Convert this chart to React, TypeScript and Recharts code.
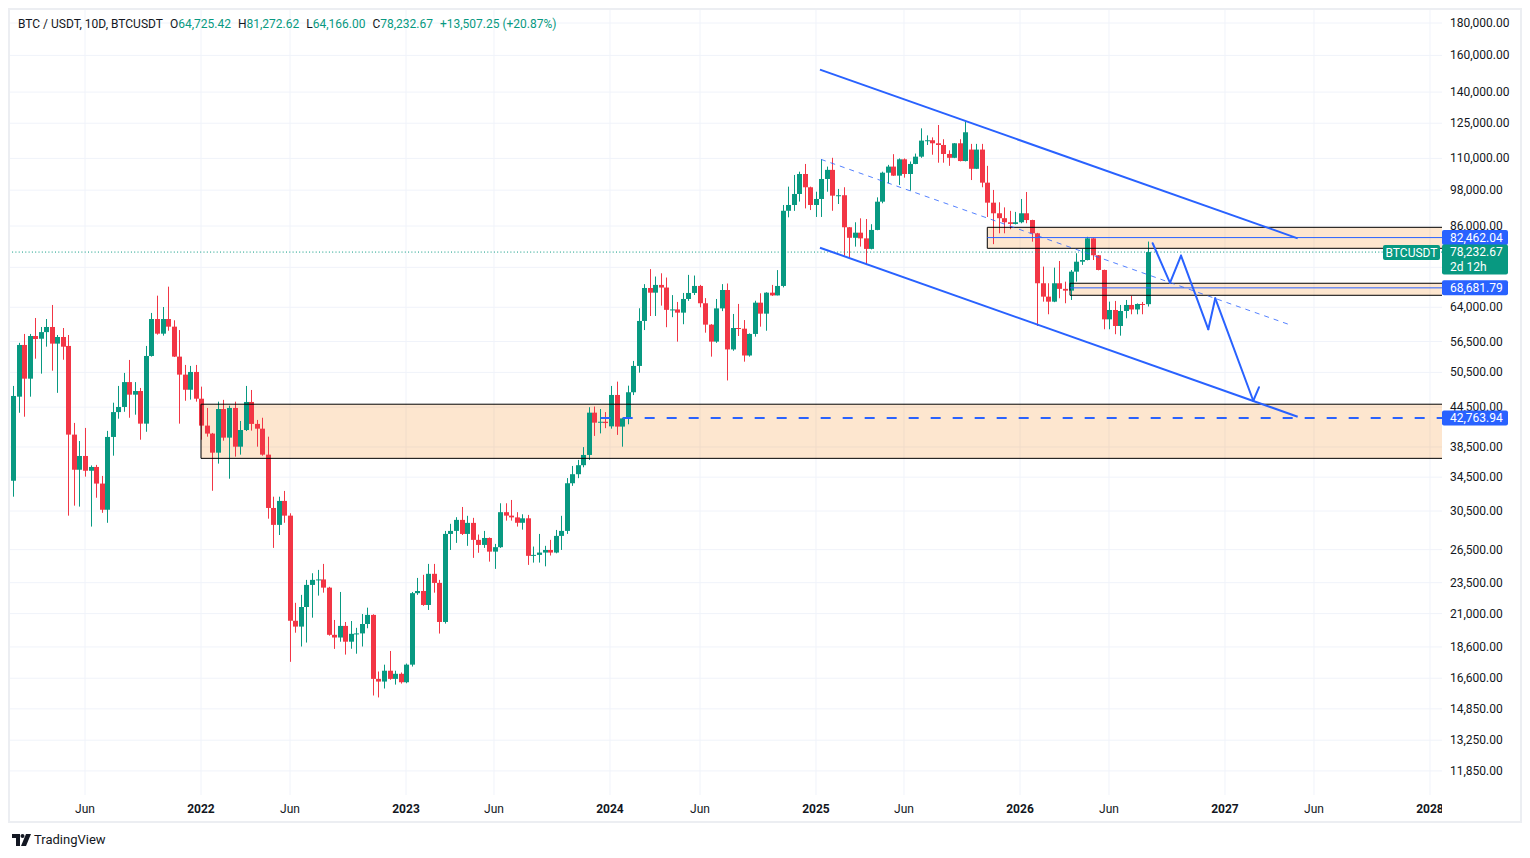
// App.tsx

import {
  ComposedChart,
  Bar,
  XAxis,
  YAxis,
  CartesianGrid,
  ReferenceLine,
  ReferenceArea,
} from "recharts";

const GREEN = "#089981";
const RED = "#f23645";
const BLUE = "#2962ff";
const TEXT = "#131722";

// 10D candles, one entry per bar (bar 0 = first candle on the left)
const OPEN = [
  34050, 46230, 55800, 49360, 57650, 57080, 58470, 59570, 56070, 57440,
  55600, 40270, 35440, 37260, 35310, 35800, 33700, 30640, 39930, 43710,
  44530, 48750, 46570, 47190, 41910, 53610, 61320, 58140, 61320, 59640,
  53480, 50090, 47410, 50580, 45890, 41610, 40420, 37710, 44200, 39830,
  44370, 38540, 40950, 45350, 41870, 41150, 37440, 30840, 29000, 31640,
  29990, 20460, 20030, 21510, 23310, 23740, 23780, 23080, 19440, 19250,
  20080, 18960, 19510, 19540, 20220, 20900, 16560, 16400, 17060, 16560,
  16870, 16360, 17440, 22620, 22800, 21670, 24270, 23480, 20370, 28060,
  28370, 29530, 28060, 29210, 27460, 26960, 27650, 26310, 26740, 30370,
  29990, 29800, 29220, 29700, 25910, 26000, 26220, 26470, 26220, 27860,
  28370, 33740, 34870, 36030, 37400, 43620, 42060, 42200, 41500, 46520,
  41460, 42720, 46980, 51700, 60890, 68650, 67490, 69420, 68760, 63400,
  63500, 62760, 65960, 67420, 69160, 64940, 60080, 56480, 63740, 68150,
  54900, 59350, 59200, 53700, 58080, 65080, 62530, 67490, 66820, 69160,
  90910, 92850, 96640, 103930, 99030, 92850, 94900, 102060, 105500, 96050,
  96200, 85620, 82400, 83950, 82230, 79140, 84790, 93970, 104420, 106760,
  103300, 109630, 103930, 107790, 110690, 117350, 117500, 116210, 115500, 111780,
  110230, 116210, 108940, 113580, 105910, 113580, 100700, 93630, 90090, 88490,
  87190, 86660, 87190, 90090, 87900, 83760, 69840, 66520, 65320, 69840,
  68430, 67990, 72850, 75540, 76000, 82230, 77330, 73300, 61250, 63370,
  59790, 63140, 64540, 63490, 64770, 64725.42,
];

const HIGH = [
  48070, 56230, 58080, 58080, 61550, 59570, 61320, 64540, 57860, 59350,
  57860, 42020, 39340, 41260, 36000, 36070, 34650, 40820, 45230, 48070,
  50400, 52840, 48750, 47720, 55600, 62690, 66760, 64060, 68980, 61040,
  58910, 51890, 51700, 51890, 47950, 44370, 40520, 45400, 45700, 44750,
  45400, 42320, 48070, 47370, 42480, 42820, 39970, 32130, 32130, 32810,
  30250, 21840, 22480, 23740, 24320, 24620, 25160, 23150, 20520, 22720,
  20370, 20440, 19940, 20970, 21460, 20950, 17010, 17440, 18330, 17060,
  16950, 17510, 22720, 23910, 24180, 25160, 25160, 23740, 28370, 29110,
  29820, 30950, 29970, 29750, 28000, 28370, 27700, 27060, 31370, 31370,
  31750, 30370, 30140, 30070, 26800, 28060, 26870, 27460, 28470, 29970,
  34380, 35930, 36730, 38480, 44490, 44600, 44200, 43710, 48070, 48830,
  42800, 48120, 52650, 63770, 69620, 73530, 71570, 72420, 71310, 66900,
  65250, 67420, 72000, 71830, 69420, 66170, 60200, 65960, 69620, 69780,
  62460, 64780, 61090, 58200, 65540, 67340, 67600, 69420, 73270, 92850,
  99250, 103570, 104800, 107790, 99250, 97440, 109630, 106760, 110230, 98430,
  99030, 85700, 87190, 88450, 88230, 86580, 95460, 104800, 107430, 111700,
  110000, 110000, 108760, 111950, 122700, 119600, 118740, 124210, 117940, 113270,
  116300, 117940, 125840, 115960, 115960, 115960, 107060, 98070, 93770, 92040,
  90880, 90540, 94900, 97340, 88000, 83900, 74200, 69840, 73930, 75730,
  70250, 73290, 77890, 79160, 82700, 82300, 77400, 73400, 65320, 65490,
  64540, 65720, 66690, 64900, 65250, 81272.62,
];

const LOW = [
  32130, 43600, 42980, 46230, 53080, 50270, 55450, 50810, 46880, 52880,
  29990, 31100, 30990, 34560, 28820, 32010, 30300, 29220, 37300, 42670,
  43760, 42820, 43300, 39530, 40690, 53480, 57930, 57720, 58760, 53400,
  41910, 45550, 45740, 45400, 39530, 39970, 32830, 36240, 39390, 34300,
  37170, 37440, 40800, 40860, 38540, 37300, 29660, 26670, 27950, 29220,
  17620, 19590, 18630, 18900, 20690, 22420, 22660, 19380, 18470, 18960,
  18090, 18480, 18150, 18630, 19910, 15590, 15480, 15990, 16510, 16220,
  16280, 16300, 17320, 22480, 21600, 21280, 22660, 19530, 20250, 26470,
  27160, 27950, 26870, 25720, 26200, 26670, 25370, 24710, 26670, 29450,
  29450, 28820, 28500, 25070, 25280, 25280, 24940, 25940, 26150, 26470,
  28060, 33420, 34370, 35760, 36730, 40080, 40450, 41230, 41150, 40230,
  38540, 41810, 46500, 50450, 58910, 62000, 62000, 64380, 59520, 61730,
  56480, 60170, 65500, 66920, 63990, 58350, 53480, 56230, 63110, 49040,
  54630, 57650, 52510, 53480, 57510, 59640, 58760, 66700, 66820, 68800,
  88780, 90880, 94000, 91700, 91150, 88890, 88890, 97440, 90910, 93180,
  77200, 76290, 79800, 79800, 74660, 79000, 84700, 93420, 100480, 103200,
  99870, 102550, 97800, 107700, 110230, 115500, 111480, 108280, 108280, 107060,
  110100, 108800, 108800, 101660, 105800, 99030, 88890, 80520, 83760, 83760,
  85010, 86500, 86880, 86880, 81250, 59790, 65320, 62390, 65200, 66130,
  64940, 65720, 70250, 74660, 75900, 76000, 73200, 59080, 59080, 58020,
  57720, 61480, 62390, 62390, 62390, 64166,
];

const CLOSE = [
  46350, 55800, 49360, 57650, 57020, 58470, 59570, 56070, 57440, 55450,
  40270, 35440, 37260, 35310, 35800, 33700, 30640, 39930, 43710, 44530,
  48750, 46570, 47190, 41910, 53610, 61320, 58140, 61320, 59640, 53480,
  50090, 47410, 50580, 45890, 41610, 40420, 37710, 44200, 39830, 44370,
  38540, 40950, 45350, 41870, 41150, 37440, 30840, 29000, 31640, 29990,
  20460, 20030, 21510, 23310, 23740, 23780, 23080, 19440, 19250, 20080,
  18960, 19510, 19540, 20220, 20900, 16560, 16400, 17060, 16560, 16870,
  16360, 17440, 22620, 22800, 21670, 24270, 23480, 20370, 28060, 28370,
  29530, 28060, 29210, 27460, 26960, 27650, 26310, 26740, 30370, 29990,
  29800, 29220, 29700, 25910, 26000, 26220, 26470, 26220, 27860, 28370,
  33740, 34870, 36030, 37400, 43620, 42060, 42200, 42000, 46520, 41460,
  42720, 46980, 51700, 60890, 68650, 67490, 69420, 68760, 63400, 63500,
  62760, 65960, 67420, 69160, 64940, 60080, 56480, 63740, 68150, 54900,
  59350, 59200, 53700, 58080, 65080, 62530, 67490, 66820, 69160, 90910,
  92850, 96640, 103930, 99030, 92850, 94900, 102060, 105500, 96050, 96200,
  85620, 82400, 83950, 82230, 79140, 84790, 93970, 104420, 106760, 103300,
  109630, 103930, 107790, 110690, 117350, 117500, 116210, 115500, 111780, 110230,
  116210, 108940, 120960, 105910, 113580, 100700, 93630, 90090, 88490, 87190,
  86660, 87190, 90090, 87900, 83760, 69840, 66520, 65320, 69840, 68430,
  67990, 72850, 75540, 76000, 82230, 77330, 73300, 61250, 63370, 59790,
  63140, 64540, 63490, 64770, 64725.42, 78232.67,
];

// time axis (in bar units) and labels
const X_MIN = -0.6;
const X_MAX = 258.05;
const X_TICKS = [
  12.95, 33.9, 49.98, 70.93, 86.82, 107.77, 124.03, 144.98, 160.87, 181.83,
  197.9, 218.85, 234.93, 255.88,
];
const X_LABELS = [
  "Jun", "2022", "Jun", "2023", "Jun", "2024", "Jun", "2025", "Jun", "2026",
  "Jun", "2027", "Jun", "2028",
];

// price axis (log)
const Y_DOMAIN = [10855, 188720];
const Y_TICKS = [
  180000, 160000, 140000, 125000, 110000, 98000, 86000, 64000, 56500, 50500,
  44500, 38500, 34500, 30500, 26500, 23500, 21000, 18600, 16600, 14850, 13250,
  11850,
];
const HIDDEN_GRID = [74000];

const LAST_PRICE = 78232.67;
const PRICE_TAGS = [
  { value: 42763.94, color: BLUE },
  { value: 68681.79, color: BLUE },
  { value: 82462.04, color: BLUE },
  { value: LAST_PRICE, color: GREEN, sub: "2d 12h", name: "BTCUSDT" },
];

// drawings
const ZONES = [
  { x1: 33.9, top: 44980, bottom: 36940 },
  { x1: 175.92, top: 85600, bottom: 79310 },
  { x1: 190.86, top: 69840, bottom: 66850 },
];
const LEVELS = [
  { x1: 175.92, y: 82462.04 },
  { x1: 190.86, y: 68681.79 },
];
const DASHED_LEVEL = { x1: 106.09, y: 42763.94 };
const CHANNEL = [
  [{ x: 145.7, y: 151930 }, { x: 231.98, y: 82240 }],
  [{ x: 145.7, y: 79490 }, { x: 231.98, y: 42980 }],
];
const CHANNEL_MID = [{ x: 145.88, y: 109610 }, { x: 231.01, y: 59860 }];
const PATH = [
  { x: 205.79, y: 80780 },
  { x: 208.92, y: 69950 },
  { x: 210.91, y: 77220 },
  { x: 215.84, y: 59070 },
  { x: 217.1, y: 66120 },
  { x: 223.96, y: 45550 },
  { x: 224.99, y: 47840 },
];

const candles = OPEN.map((open, i) => ({
  bar: i,
  open,
  high: HIGH[i],
  low: LOW[i],
  close: CLOSE[i],
  range: [LOW[i], HIGH[i]],
}));

const fmt = (v: number) =>
  v.toLocaleString("en-US", { minimumFractionDigits: 2, maximumFractionDigits: 2 });

const Candle = (props: any) => {
  const { x, y, width, height, payload } = props;
  if (!payload || !isFinite(y) || !isFinite(height)) return null;
  const { open, close, high, low } = payload;
  const color = close >= open ? GREEN : RED;
  const lh = Math.log(high);
  const ll = Math.log(low);
  const py = (p: number) =>
    lh === ll ? y : y + (height * (lh - Math.log(p))) / (lh - ll);
  const top = py(Math.max(open, close));
  const bot = py(Math.min(open, close));
  const cx = Math.round(x + width / 2) + 0.5;
  return (
    <g>
      <line x1={cx} x2={cx} y1={y} y2={y + height} stroke={color} strokeWidth={1} />
      <rect x={cx - 2.5} y={top} width={5} height={Math.max(1, bot - top)} fill={color} />
    </g>
  );
};

const XTick = (props: any) => {
  const { x, y, payload } = props;
  const i = X_TICKS.indexOf(payload.value);
  const label = X_LABELS[i] ?? "";
  const isYear = /^\d{4}$/.test(label);
  const id = `xclip-${i}`;
  return (
    <g>
      <defs>
        <clipPath id={id}>
          <rect x={10} y={y} width={1432} height={30} />
        </clipPath>
      </defs>
      <text
        x={x}
        y={y + 18}
        textAnchor="middle"
        fontSize={12}
        fontWeight={isYear ? 700 : 400}
        fill={TEXT}
        clipPath={`url(#${id})`}
      >
        {label}
      </text>
    </g>
  );
};

const YTick = (props: any) => {
  const { x, y, payload } = props;
  const v = payload.value;
  const tag = PRICE_TAGS.find((t) => t.value === v);
  if (!tag) {
    return (
      <text x={x + 8} y={y + 4} fontSize={12} fill={TEXT} textAnchor="start">
        {fmt(v)}
      </text>
    );
  }
  const h = tag.sub ? 30 : 15;
  return (
    <g>
      <rect x={x} y={y - 7.5} width={66} height={h} rx={2} fill={tag.color} />
      <text x={x + 8} y={y + 4} fontSize={12} fill="#fff" textAnchor="start">
        {fmt(v)}
      </text>
      {tag.sub && (
        <text x={x + 8} y={y + 18.5} fontSize={12} fill="#fff" textAnchor="start">
          {tag.sub}
        </text>
      )}
      {tag.name && (
        <g>
          <rect x={x - 59} y={y - 7} width={57} height={15} rx={2} fill={tag.color} />
          <text x={x - 30.5} y={y + 4.5} fontSize={12} fill="#fff" textAnchor="middle">
            {tag.name}
          </text>
        </g>
      )}
    </g>
  );
};

const Header = () => {
  const items: [string, string][] = [
    ["O", "64,725.42"],
    ["H", "81,272.62"],
    ["L", "64,166.00"],
    ["C", "78,232.67"],
  ];
  return (
    <div
      style={{
        position: "absolute",
        left: 18,
        top: 16,
        fontSize: 12,
        lineHeight: "16px",
        color: TEXT,
        whiteSpace: "nowrap",
      }}
    >
      <span>BTC / USDT, 10D, BTCUSDT</span>
      {items.map(([k, v]) => (
        <span key={k} style={{ marginLeft: 7 }}>
          {k}
          <span style={{ color: GREEN }}>{v}</span>
        </span>
      ))}
      <span style={{ marginLeft: 7, color: GREEN }}>+13,507.25 (+20.87%)</span>
    </div>
  );
};

const Logo = () => (
  <div
    style={{
      position: "absolute",
      left: 12,
      top: 832,
      display: "flex",
      alignItems: "center",
      fontSize: 13,
      color: TEXT,
    }}
  >
    <svg width={19} height={12} viewBox="0 0 19 12" style={{ marginRight: 3 }}>
      <path d="M0 0h8v12H4V4H0z" fill={TEXT} />
      <circle cx={10.5} cy={2} r={2} fill={TEXT} />
      <path d="M14 0h5l-5 12H9z" fill={TEXT} />
    </svg>
    TradingView
  </div>
);

export default function App() {
  return (
    <div
      style={{
        position: "relative",
        width: 1530,
        height: 858,
        background: "#fff",
        fontFamily: "Roboto, 'Noto Sans', sans-serif",
      }}
    >
      <style>{"body{margin:0;background:#fff}"}</style>
      <ComposedChart
        width={1530}
        height={858}
        data={candles}
        margin={{ top: 10, right: 10, bottom: 36, left: 10 }}
        style={{ fontFamily: "Roboto, 'Noto Sans', sans-serif" }}
      >
        <CartesianGrid
          stroke="#f0f3fa"
          horizontalValues={[...Y_TICKS, ...HIDDEN_GRID]}
          verticalValues={X_TICKS}
        />
        <XAxis
          dataKey="bar"
          type="number"
          domain={[X_MIN, X_MAX]}
          allowDataOverflow
          ticks={X_TICKS}
          interval={0}
          tick={<XTick />}
          tickSize={0}
          tickMargin={0}
          axisLine={false}
          tickLine={false}
          height={27}
        />
        <YAxis
          orientation="right"
          type="number"
          scale="log"
          domain={Y_DOMAIN}
          allowDataOverflow
          ticks={[...Y_TICKS, ...PRICE_TAGS.map((t) => t.value)]}
          interval={0}
          tick={<YTick />}
          tickSize={0}
          tickMargin={0}
          axisLine={false}
          tickLine={false}
          width={78}
        />

        {ZONES.map((z, i) => (
          <ReferenceArea
            key={`zone-${i}`}
            x1={z.x1}
            x2={X_MAX}
            y1={z.bottom}
            y2={z.top}
            fill="#f57c00"
            fillOpacity={0.19}
            stroke="none"
          />
        ))}

        <Bar
          dataKey="range"
          barSize={5}
          shape={<Candle />}
          isAnimationActive={false}
        />

        {ZONES.map((z, i) => (
          <ReferenceLine
            key={`zt-${i}`}
            segment={[{ x: z.x1, y: z.top }, { x: X_MAX, y: z.top }]}
            stroke="#000"
            strokeWidth={1}
          />
        ))}
        {ZONES.map((z, i) => (
          <ReferenceLine
            key={`zb-${i}`}
            segment={[{ x: z.x1, y: z.bottom }, { x: X_MAX, y: z.bottom }]}
            stroke="#000"
            strokeWidth={1}
          />
        ))}
        {ZONES.map((z, i) => (
          <ReferenceLine
            key={`zl-${i}`}
            segment={[{ x: z.x1, y: z.top }, { x: z.x1, y: z.bottom }]}
            stroke="#000"
            strokeWidth={1}
          />
        ))}

        {LEVELS.map((l, i) => (
          <ReferenceLine
            key={`lvl-${i}`}
            segment={[{ x: l.x1, y: l.y }, { x: X_MAX, y: l.y }]}
            stroke={BLUE}
            strokeWidth={1}
          />
        ))}
        <ReferenceLine
          segment={[
            { x: DASHED_LEVEL.x1, y: DASHED_LEVEL.y },
            { x: X_MAX, y: DASHED_LEVEL.y },
          ]}
          stroke={BLUE}
          strokeWidth={2}
          strokeDasharray="10 12"
        />
        <ReferenceLine
          y={LAST_PRICE}
          stroke={GREEN}
          strokeWidth={1}
          strokeDasharray="1 2.3"
        />

        {CHANNEL.map((seg, i) => (
          <ReferenceLine
            key={`ch-${i}`}
            segment={seg}
            stroke={BLUE}
            strokeWidth={2}
          />
        ))}
        <ReferenceLine
          segment={CHANNEL_MID}
          stroke={BLUE}
          strokeOpacity={0.8}
          strokeWidth={1}
          strokeDasharray="5 5"
        />
        {PATH.slice(1).map((p, i) => (
          <ReferenceLine
            key={`path-${i}`}
            segment={[PATH[i], p]}
            stroke={BLUE}
            strokeWidth={2}
            strokeLinecap="round"
          />
        ))}
      </ComposedChart>
      <Header />
      <Logo />
      <div
        style={{
          position: "absolute",
          left: 8,
          top: 8,
          width: 1514,
          height: 815,
          boxSizing: "border-box",
          border: "2px solid #eceef2",
          pointerEvents: "none",
        }}
      />
    </div>
  );
}
